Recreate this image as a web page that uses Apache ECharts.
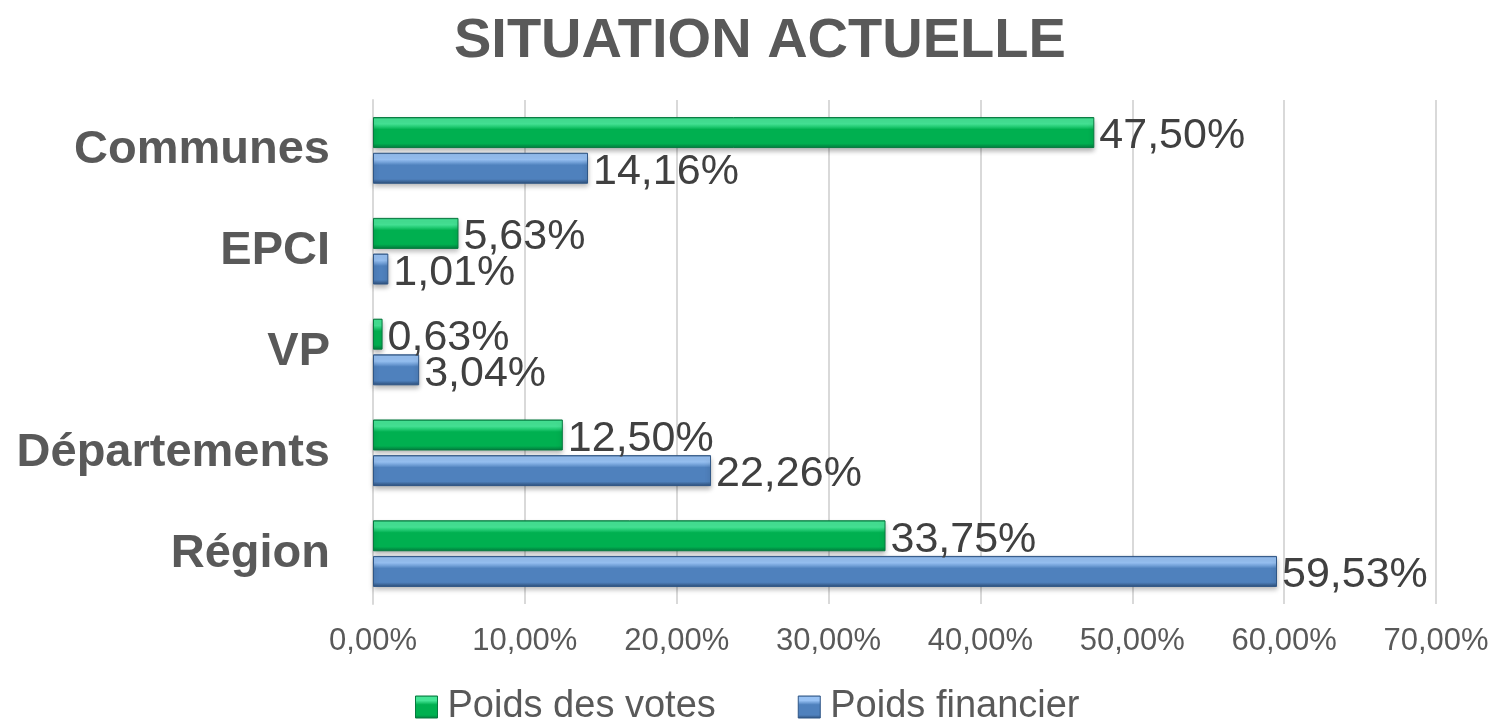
<!DOCTYPE html>
<html>
<head>
<meta charset="utf-8">
<script src="https://cdn.jsdelivr.net/npm/echarts@6/dist/echarts.min.js"></script>
<style>
  html,body{margin:0;padding:0;background:#fff;}
  #chart{width:1495px;height:723px;}
</style>
</head>
<body>
<div id="chart"></div>
<script>
  const categories = ['Région', 'Départements', 'VP', 'EPCI', 'Communes'];
  const votes = [33.75, 12.50, 0.63, 5.63, 47.50];
  const financier = [59.53, 22.26, 3.04, 1.01, 14.16];
  const xTicks = [0, 10, 20, 30, 40, 50, 60, 70];

  const fmt = v => v.toFixed(2).replace('.', ',') + '%';
  const FONT = 'Liberation Sans, Arial, sans-serif';

  // faux 3D bevel, light strip on top, darker edge at the bottom
  const bevel = (light, mid, dark) => new echarts.graphic.LinearGradient(0, 0, 0, 1, [
    {offset: 0, color: dark},
    {offset: 0.06, color: light},
    {offset: 0.22, color: light},
    {offset: 0.4, color: mid},
    {offset: 0.85, color: mid},
    {offset: 1, color: dark}
  ]);
  const green = bevel('#45e596', '#00b050', '#047a3d');
  const blue = bevel('#98c2f4', '#4f81bd', '#2c4d77');

  const chart = echarts.init(document.getElementById('chart'));
  chart.setOption({
    animation: false,
    title: {
      text: 'SITUATION ACTUELLE',
      left: 449, top: 9,
      textStyle: {fontFamily: FONT, fontSize: 56, fontWeight: 'bold', color: '#595959'}
    },
    legend: {
      top: 683, left: 410,
      itemWidth: 22, itemHeight: 22, itemGap: 82,
      icon: 'rect',
      textStyle: {fontFamily: FONT, fontSize: 38, color: '#595959', padding: [0, 0, 0, 5]},
      data: [
        {name: 'Poids des votes', itemStyle: {color: green, borderColor: '#067a3f', borderWidth: 1}},
        {name: 'Poids financier', itemStyle: {color: blue, borderColor: '#2f5686', borderWidth: 1}}
      ]
    },
    grid: {left: 373, right: 59, top: 100, bottom: 119, containLabel: false},
    xAxis: {
      type: 'value', min: 0, max: 70, interval: 10,
      axisLabel: {
        fontFamily: FONT, fontSize: 31, color: '#595959', margin: 22,
        formatter: v => xTicks.includes(v) ? fmt(v) : ''
      },
      axisLine: {show: false}, axisTick: {show: false},
      splitLine: {lineStyle: {color: '#d9d9d9', width: 2}}
    },
    yAxis: {
      type: 'category', data: categories,
      axisLabel: {fontFamily: FONT, fontSize: 47, fontWeight: 'bold', color: '#595959', margin: 43},
      axisLine: {lineStyle: {color: '#d9d9d9', width: 2}},
      axisTick: {show: false}
    },
    series: [
      {
        name: 'Poids des votes', type: 'bar', data: votes,
        barWidth: 31, barGap: '15%',
        itemStyle: {color: green, borderColor: '#067a3f', borderWidth: 1,
          shadowColor: 'rgba(0,0,0,0.3)', shadowBlur: 5, shadowOffsetY: 3},
        label: {show: true, position: 'right', distance: 5, formatter: p => fmt(p.value),
          fontFamily: FONT, fontSize: 43, color: '#404040', offset: [0, 4]}
      },
      {
        name: 'Poids financier', type: 'bar', data: financier,
        barWidth: 31, barGap: '15%',
        itemStyle: {color: blue, borderColor: '#2f5686', borderWidth: 1,
          shadowColor: 'rgba(0,0,0,0.3)', shadowBlur: 5, shadowOffsetY: 3},
        label: {show: true, position: 'right', distance: 5, formatter: p => fmt(p.value),
          fontFamily: FONT, fontSize: 43, color: '#404040', offset: [0, 4]}
      }
    ]
  });
</script>
</body>
</html>
